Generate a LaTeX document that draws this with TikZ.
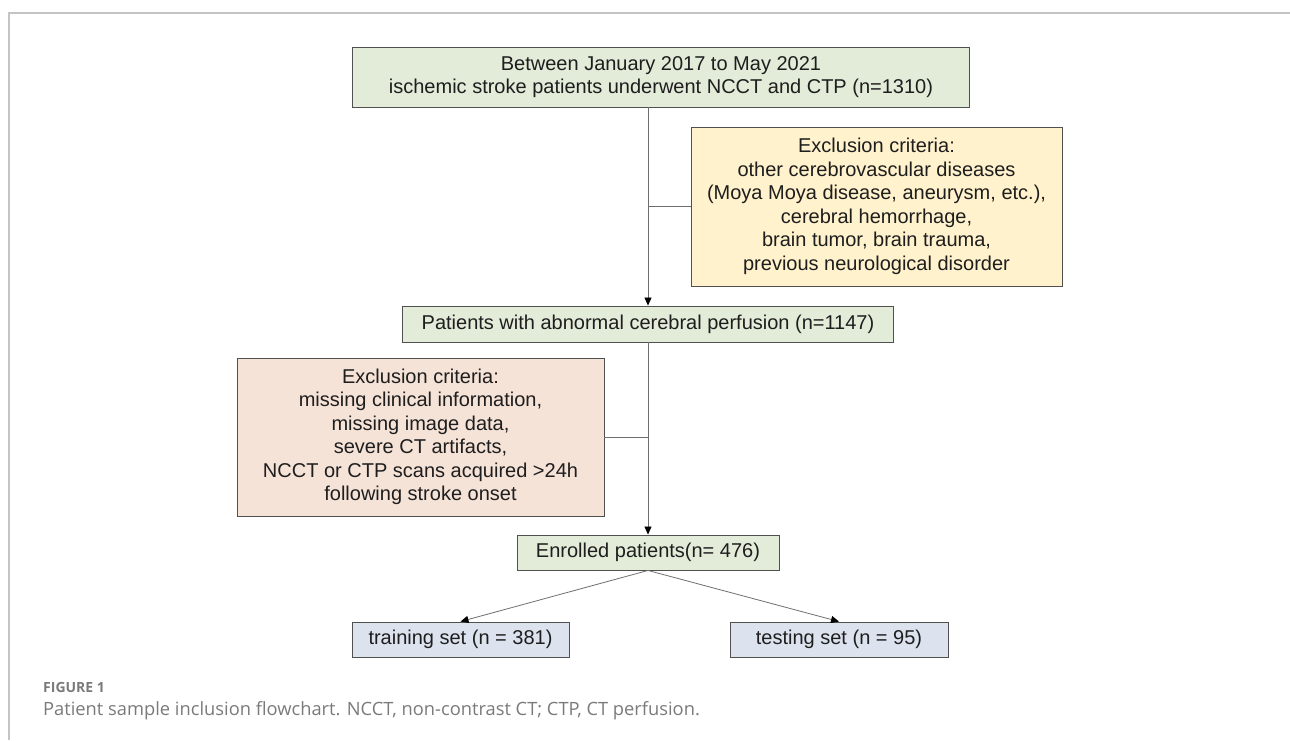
\documentclass[tikz,border=0pt]{standalone}
\usepackage{fontspec}
\setmainfont{Liberation Sans}
\newfontfamily\capfont{Open Sans}
\usepackage{xcolor}
\usetikzlibrary{arrows.meta,positioning,calc}
\definecolor{cGreen}{HTML}{E3ECD9}
\definecolor{cYel}{HTML}{FFF2CC}
\definecolor{cSal}{HTML}{F6E3D8}
\definecolor{cBlue}{HTML}{DCE2EE}
\definecolor{cInk}{HTML}{1E1E1E}
\definecolor{cEdge}{HTML}{505050}
\definecolor{cLine}{HTML}{6E6E6E}
\definecolor{cFrame}{HTML}{C4C4C4}
\definecolor{cCap}{HTML}{7A7A7A}
\tikzset{
  >={Triangle[length=8pt,width=7pt,color=black]},
  box/.style   ={draw=cEdge,line width=0.9pt,align=center,inner sep=0pt,
                 text=cInk,font=\fontsize{20}{23.5}\selectfont},
  gbox/.style  ={box,fill=cGreen},
  ybox/.style  ={box,fill=cYel},
  sbox/.style  ={box,fill=cSal},
  bbox/.style  ={box,fill=cBlue},
  ln/.style    ={cLine,line width=0.8pt},
  ar/.style    ={->,ln},
}

\begin{document}
\begin{tikzpicture}[x=1pt,y=-1pt]
\useasboundingbox (0,0) rectangle (1290,740);
% frame
\draw[cFrame,line width=1.5pt] (1290,13) -- (9,13) -- (9,740);

% boxes
\node[gbox,minimum width=617pt,minimum height=60pt] (all) at (661,77)
  {Between January 2017 to May 2021\\ ischemic stroke patients underwent NCCT and CTP (n=1310)};
\node[ybox,minimum width=371pt,minimum height=159pt] (exA) at (876.5,206.5)
  {Exclusion criteria:\\ other cerebrovascular diseases\\ (Moya Moya disease, aneurysm, etc.),\\
   cerebral hemorrhage,\\ brain tumor, brain trauma,\\ previous neurological disorder};
\node[gbox,minimum width=491pt,minimum height=36pt] (perf) at (648,324)
  {Patients with abnormal cerebral perfusion (n=1147)};
\node[sbox,minimum width=367pt,minimum height=158pt] (exB) at (420.5,437)
  {Exclusion criteria:\\ missing clinical information,\\ missing image data,\\ severe CT artifacts,\\
   NCCT or CTP scans acquired >24h\\ following stroke onset};
\node[gbox,minimum width=262pt,minimum height=35pt] (enr) at (648,552.5)
  {Enrolled patients(n= 476)};
\node[bbox,minimum width=217pt,minimum height=35pt] (train) at (460.5,639.5)
  {training set (n = 381)};
\node[bbox,minimum width=218pt,minimum height=35pt] (test) at (839,639.5)
  {testing set (n = 95)};

% connectors
\coordinate (jA) at (perf.north |- exA.west);
\coordinate (jB) at (perf.north |- exB.east);
\draw[ar] (perf.north |- all.south) -- (perf.north);
\draw[ln] (jA) -- (exA.west);
\draw[ar] (perf.south) -- (enr.north);
\draw[ln] (jB) -- (exB.east);
\draw[ar] (enr.south) -- (train.north);
\draw[ar] (enr.south) -- (test.north);

% caption
\node[anchor=base west,inner sep=0pt,text=cCap,font=\capfont\bfseries\fontsize{14}{16}\selectfont] (fig) at (43,692) {FIGURE 1};
\node[anchor=base west,inner sep=0pt,text=cCap,font=\capfont\fontsize{18.3}{22}\selectfont] (cap) at (43,715)
  {Patient sample inclusion flowchart. NCCT, non-contrast CT; CTP, CT perfusion.};
\end{tikzpicture}
\end{document}
